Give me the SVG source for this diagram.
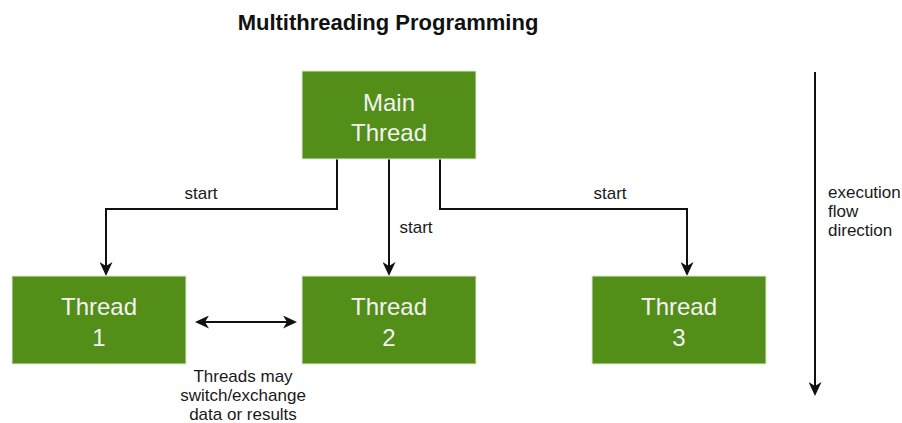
<svg xmlns="http://www.w3.org/2000/svg" width="902" height="423" viewBox="0 0 902 423">
<style>
.box{fill:#538e19;stroke:#e0ead5;stroke-width:1}
.bt{font-family:"Liberation Sans",Arial,sans-serif;font-size:24px;fill:#f2f2f2;text-anchor:middle}
.lbl{font-family:"Liberation Sans",Arial,sans-serif;font-size:17px;fill:#1a1a1a}
.c{text-anchor:middle}
.ln{fill:none;stroke:#111;stroke-width:2}
</style>
<defs>
<marker id="ah" viewBox="0 0 14 13" refX="10" refY="6.5" markerWidth="14" markerHeight="13" markerUnits="userSpaceOnUse" orient="auto-start-reverse">
<path d="M0,0 L14,6.5 L0,13 L4,6.5 Z" fill="#111"/>
</marker>
</defs>
<rect width="902" height="423" fill="#fff"/>
<text x="388" y="30" font-family="'Liberation Sans',Arial,sans-serif" font-weight="bold" font-size="22" text-anchor="middle" fill="#111">Multithreading Programming</text>
<g id="connectors">
<path class="ln" d="M337,159 V209 H106 V272" marker-end="url(#ah)"/>
<path class="ln" d="M389,159 V272" marker-end="url(#ah)"/>
<path class="ln" d="M440,159 V209 H687 V272" marker-end="url(#ah)"/>
<path class="ln" d="M199,322 H293" marker-start="url(#ah)" marker-end="url(#ah)"/>
<path class="ln" d="M815,72 V392" marker-end="url(#ah)"/>
<text class="lbl c" x="201" y="199">start</text>
<text class="lbl c" x="416" y="233">start</text>
<text class="lbl c" x="610" y="199">start</text>
<text class="lbl c" x="243" y="382">Threads may</text>
<text class="lbl c" x="243" y="401">switch/exchange</text>
<text class="lbl c" x="243" y="420">data or results</text>
<text class="lbl" x="828" y="198">execution</text>
<text class="lbl" x="828" y="217">flow</text>
<text class="lbl" x="828" y="236">direction</text>
</g>
<g id="main">
<rect class="box" x="302" y="71" width="174" height="88"/>
<text class="bt" x="389" y="111">Main</text>
<text class="bt" x="389" y="141">Thread</text>
</g>
<g id="thread1">
<rect class="box" x="12" y="276" width="174" height="88"/>
<text class="bt" x="99" y="315">Thread</text>
<text class="bt" x="99" y="346">1</text>
</g>
<g id="thread2">
<rect class="box" x="302" y="276" width="174" height="88"/>
<text class="bt" x="389" y="315">Thread</text>
<text class="bt" x="389" y="346">2</text>
</g>
<g id="thread3">
<rect class="box" x="592" y="276" width="174" height="88"/>
<text class="bt" x="679" y="315">Thread</text>
<text class="bt" x="679" y="346">3</text>
</g>
</svg>
